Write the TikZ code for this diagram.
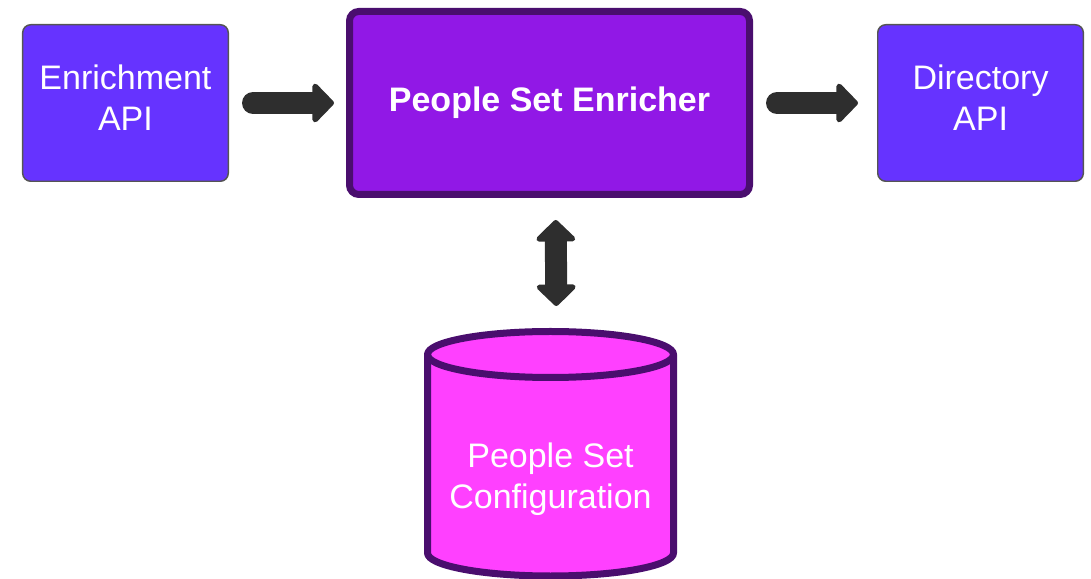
\documentclass[tikz,border=0pt]{standalone}
\usepackage{fontspec}
\setmainfont{Liberation Sans}
\usepackage{tikz}
\usetikzlibrary{arrows.meta,positioning}

\definecolor{apiblue}{HTML}{6633FF}
\definecolor{enrpurple}{HTML}{9118E6}
\definecolor{darkpurple}{HTML}{4A0E6E}
\definecolor{cfgpink}{HTML}{FF40FF}
\definecolor{arrowgray}{HTML}{2E2E2E}
\definecolor{bordergray}{HTML}{555555}

\begin{document}
\begin{tikzpicture}[
    x=0.75pt, y=0.75pt,
    api/.style={
        rectangle,
        rounded corners=6pt,
        draw=bordergray,
        line width=1.1pt,
        fill=apiblue,
        text=white,
        align=center,
        minimum width=154.2pt,
        minimum height=117.4pt,
        text depth=7.3pt,
        font=\fontsize{25.5}{30.75}\selectfont
    },
    core/.style={
        rectangle,
        rounded corners=7pt,
        draw=darkpurple,
        line width=5.25pt,
        fill=enrpurple,
        text=white,
        minimum width=300pt,
        minimum height=137.25pt,
        font=\fontsize{25.5}{30.75}\selectfont\bfseries
    },
    cyl/.style={
        draw=darkpurple,
        line width=5.25pt,
        line join=round,
        fill=cfgpink
    },
    cfgtext/.style={
        text=white,
        align=center,
        font=\fontsize{25.5}{30.75}\selectfont
    },
    flow/.style={
        draw=arrowgray,
        line width=16.5pt,
        line cap=round,
        -{Triangle[length=17pt, width=34pt, line width=4pt, round]}
    },
    flowboth/.style={
        draw=arrowgray,
        line width=16.5pt,
        {Triangle[length=17pt, width=34pt, line width=4pt, round]}-{Triangle[length=17pt, width=34pt, line width=4pt, round]}
    }
]
\useasboundingbox (0,0) rectangle (1091,578);

% --- 三個方塊 ---
\node[core] (enricher) at (549.5,475) {People Set Enricher};
\node[api, left=87.75pt of enricher] (enrichapi) {Enrichment\\API};
\node[api, right=93pt of enricher] (dirapi) {Directory\\API};

% --- 設定資料庫 (圓柱) ---
\draw[cyl] (427.5,223.5) -- (427.5,25)
    arc[start angle=180, end angle=360, x radius=123, y radius=23]
    -- (673.5,223.5)
    arc[start angle=0, end angle=180, x radius=123, y radius=23] -- cycle;
\draw[cyl, fill=none] (427.5,223.5)
    arc[start angle=180, end angle=360, x radius=123, y radius=23];
\node[cfgtext] (config) at (550.5,98.5) {People Set\\Configuration};
\coordinate (cfgtop) at (550.5,250);

% --- 箭頭 ---
\draw[flow, shorten <=18pt, shorten >=9pt] (enrichapi) -- (enricher);
\draw[flow, shorten <=18pt, shorten >=14.25pt] (enricher) -- (dirapi);
\draw[flowboth, shorten <=16.5pt, shorten >=16.5pt]
    ([xshift=4.5pt]enricher.south) -- ([xshift=4.5pt]cfgtop);
\end{tikzpicture}
\end{document}
